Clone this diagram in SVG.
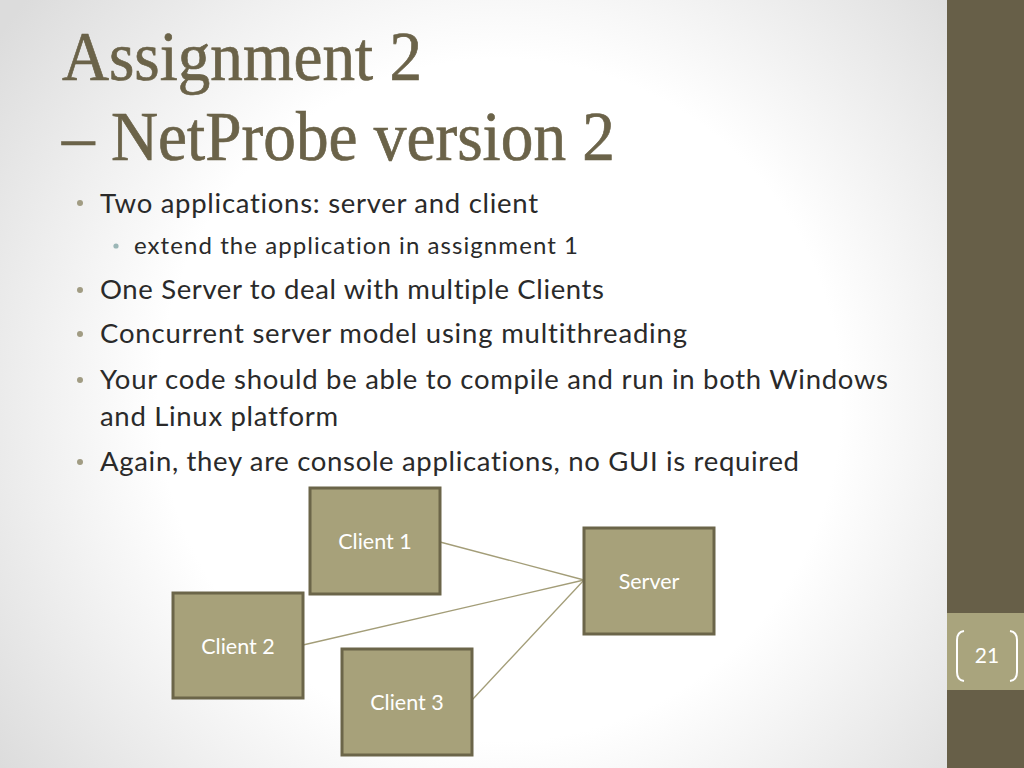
<svg xmlns="http://www.w3.org/2000/svg" width="1024" height="768" viewBox="0 0 1024 768">
<defs>
<radialGradient id="bg" cx="500" cy="400" r="620" gradientUnits="userSpaceOnUse">
<stop offset="0" stop-color="#ffffff"/>
<stop offset="0.55" stop-color="#ffffff"/>
<stop offset="1" stop-color="#dcdcdc"/>
</radialGradient>
<style>
text{font-variant-ligatures:none}
.title{font-family:"Liberation Serif","DejaVu Serif",serif;font-size:70px;fill:#6b6349;stroke:#6b6349;stroke-width:0.7}
.b1{font-family:Lato,"Noto Sans",sans-serif;font-size:27.5px;fill:#2a2a2a}
.b2{font-family:Lato,"Noto Sans",sans-serif;font-size:24px;fill:#2a2a2a}
.node rect{fill:#a7a17a;stroke:#6b6549;stroke-width:3}
.node text{font-family:Lato,"Noto Sans",sans-serif;font-size:21.5px;fill:#ffffff;text-anchor:middle}
.conn line{stroke:#a39d78;stroke-width:1.3}
</style>
</defs>
<rect x="0" y="0" width="1024" height="768" fill="url(#bg)"/>
<rect x="947" y="0" width="77" height="768" fill="#675f48"/>
<rect x="947" y="613" width="77" height="77" fill="#a9a47d"/>
<g fill="none" stroke="#ffffff" stroke-width="2">
<path d="M964,631 Q957,632 957,640 L957,672 Q957,680 964,681"/>
<path d="M1010,631 Q1017,632 1017,640 L1017,672 Q1017,680 1010,681"/>
</g>
<text x="987" y="663" font-family="Lato,'Noto Sans',sans-serif" font-size="21" fill="#ffffff" text-anchor="middle">21</text>

<text class="title" x="62" y="80" textLength="360" lengthAdjust="spacingAndGlyphs">Assignment 2</text>
<text class="title" x="62" y="160" textLength="553" lengthAdjust="spacingAndGlyphs">– NetProbe version 2</text>

<g fill="#a19c83">
<circle cx="80" cy="203" r="3"/>
<circle cx="80" cy="290" r="3"/>
<circle cx="80" cy="334" r="3"/>
<circle cx="80" cy="380" r="3"/>
<circle cx="80" cy="462" r="3"/>
</g>
<circle cx="116" cy="246" r="2.6" fill="#9bb6b6"/>
<text class="b1" x="100" y="213" textLength="438">Two applications: server and client</text>
<text class="b2" x="134" y="254" textLength="444">extend the application in assignment 1</text>
<text class="b1" x="100" y="299" textLength="504">One Server to deal with multiple Clients</text>
<text class="b1" x="100" y="343" textLength="587">Concurrent server model using multithreading</text>
<text class="b1" x="100" y="389" textLength="788">Your code should be able to compile and run in both Windows</text>
<text class="b1" x="100" y="426" textLength="238">and Linux platform</text>
<text class="b1" x="100" y="471" textLength="699">Again, they are console applications, no GUI is required</text>

<g class="conn">
<line x1="440" y1="542" x2="584" y2="580"/>
<line x1="303" y1="645" x2="584" y2="580"/>
<line x1="472" y1="700" x2="584" y2="580"/>
</g>
<g id="client1" class="node"><rect x="310" y="488" width="130" height="106"/><text x="375" y="549">Client 1</text></g>
<g id="server" class="node"><rect x="584" y="528" width="130" height="106"/><text x="649" y="589">Server</text></g>
<g id="client2" class="node"><rect x="173" y="593" width="130" height="105"/><text x="238" y="654">Client 2</text></g>
<g id="client3" class="node"><rect x="342" y="649" width="130" height="106"/><text x="407" y="710">Client 3</text></g>
</svg>
